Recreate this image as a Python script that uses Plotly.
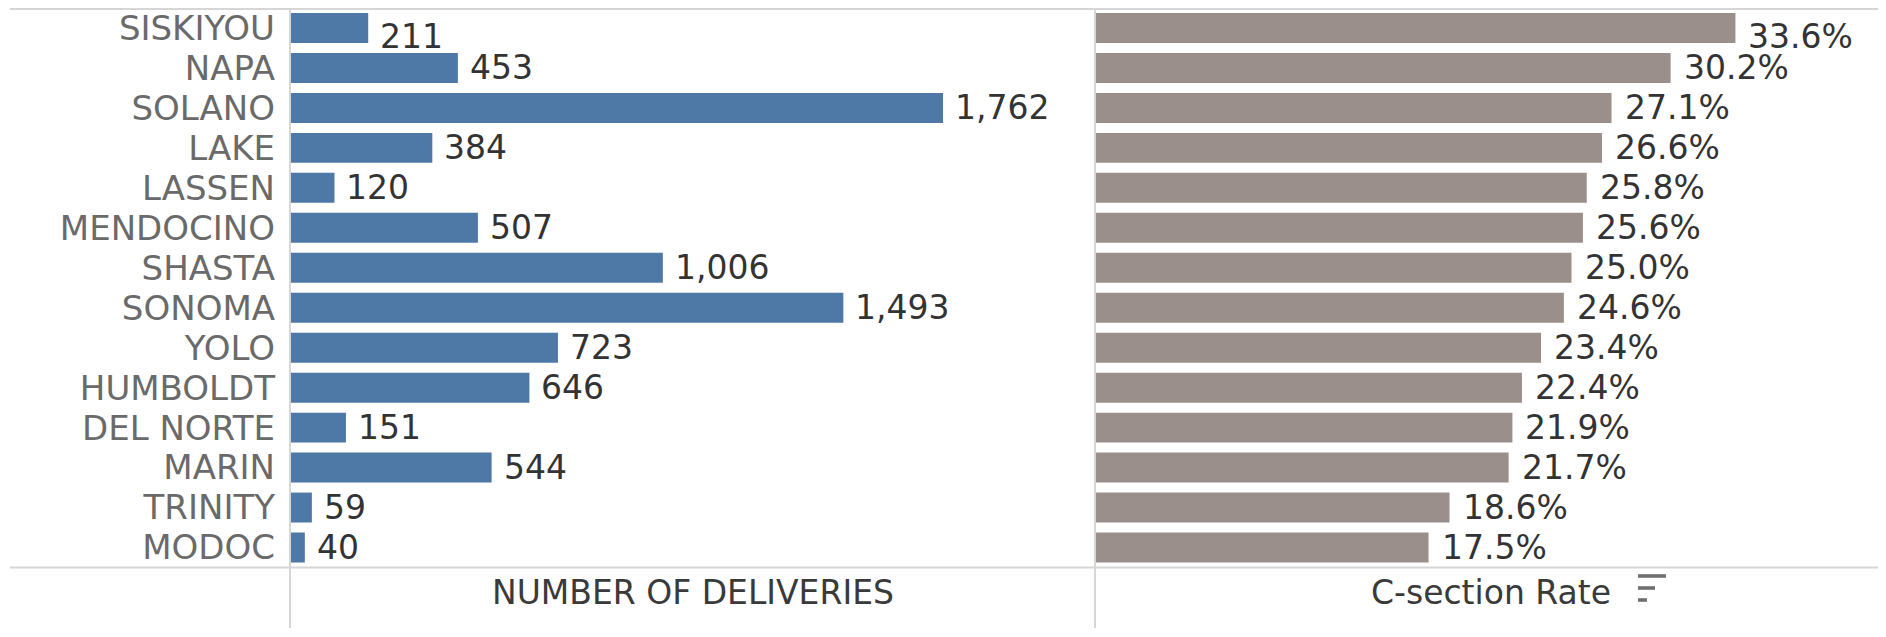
import plotly.graph_objects as go

counties = ['SISKIYOU', 'NAPA', 'SOLANO', 'LAKE', 'LASSEN', 'MENDOCINO', 'SHASTA',
            'SONOMA', 'YOLO', 'HUMBOLDT', 'DEL NORTE', 'MARIN', 'TRINITY', 'MODOC']
deliveries = [211, 453, 1762, 384, 120, 507, 1006, 1493, 723, 646, 151, 544, 59, 40]
csection_rate = [33.6, 30.2, 27.1, 26.6, 25.8, 25.6, 25.0, 24.6, 23.4, 22.4, 21.9, 21.7, 18.6, 17.5]

# the page body has an 8px margin, so the figure is a bit smaller than the window
OFF = 8
W, H = 1886 - OFF, 637 - OFF
FONT = 'DejaVu Sans'
BLUE = '#4e79a7'
GRAY = '#9a8f8b'
LINE = '#d6d6d6'


def px(x):
    return (x - OFF) / W


def py(y):
    return 1 - (y - OFF) / H


# window pixel positions of the panes
x_left, x_mid, x_right = 290, 1095, 1886
y_top, y_bot = 8, 567.5
n = len(counties)

fig = go.Figure()

fig.add_trace(go.Bar(y=counties, x=deliveries, orientation='h',
                     marker=dict(color=BLUE, line=dict(width=0)),
                     xaxis='x', yaxis='y', hoverinfo='x+y'))
fig.add_trace(go.Bar(y=counties, x=csection_rate, orientation='h',
                     marker=dict(color=GRAY, line=dict(width=0)),
                     xaxis='x2', yaxis='y2', hoverinfo='x+y'))

# value labels (top row is pushed down a little, like in the original)
annotations = []
for i, (c, v) in enumerate(zip(counties, deliveries)):
    annotations.append(dict(x=v, y=c, xref='x', yref='y', text=f'{v:,}',
                            showarrow=False, xanchor='left', yanchor='middle', xshift=10,
                            yshift=-9 if i == 0 else 0,
                            font=dict(family=FONT, size=33, color='#333333')))
for i, (c, v) in enumerate(zip(counties, csection_rate)):
    annotations.append(dict(x=v, y=c, xref='x2', yref='y2', text=f'{v:.1f}%',
                            showarrow=False, xanchor='left', yanchor='middle', xshift=11,
                            yshift=-9 if i == 0 else 0,
                            font=dict(family=FONT, size=33, color='#333333')))

title_y = py(592)
annotations.append(dict(x=px((x_left + x_mid) / 2), y=title_y, xref='paper', yref='paper',
                        xanchor='center', yanchor='middle',
                        text='NUMBER OF DELIVERIES', showarrow=False,
                        font=dict(family=FONT, size=33, color='#3a3a3a')))
annotations.append(dict(x=px((x_mid + x_right) / 2), y=title_y, xref='paper', yref='paper',
                        xanchor='center', yanchor='middle',
                        text='C-section Rate', showarrow=False,
                        font=dict(family=FONT, size=33, color='#3a3a3a')))

shapes = []
for yy in (9, y_bot):
    shapes.append(dict(type='line', xref='paper', yref='paper',
                       x0=px(10), x1=1, y0=py(yy), y1=py(yy),
                       line=dict(color=LINE, width=2)))
for xx in (x_left, x_mid):
    shapes.append(dict(type='line', xref='paper', yref='paper',
                       x0=px(xx), x1=px(xx), y0=py(628), y1=1,
                       line=dict(color=LINE, width=2)))
# sort icon next to the C-section Rate header
for yy, x_end in ((576, 1666), (588, 1655), (600, 1647)):
    shapes.append(dict(type='rect', xref='paper', yref='paper',
                       x0=px(1638), x1=px(x_end), y0=py(yy + 1.8), y1=py(yy - 1.8),
                       fillcolor='#707070', line=dict(width=0)))

fig.update_layout(
    width=W, height=H,
    margin=dict(l=0, r=0, t=0, b=0, pad=0),
    paper_bgcolor='white', plot_bgcolor='white',
    showlegend=False, bargap=0.25,
    font=dict(family=FONT),
    xaxis=dict(domain=[px(x_left), px(x_mid)], range=[0, 2172], automargin=False,
               showgrid=False, zeroline=False, showticklabels=False, ticks=''),
    xaxis2=dict(domain=[px(x_mid), 1], range=[0, 41.5], automargin=False,
                showgrid=False, zeroline=False, showticklabels=False, ticks=''),
    yaxis=dict(domain=[py(y_bot), py(y_top)], range=[n - 0.5, -0.5], automargin=False,
               type='category', categoryorder='array', categoryarray=counties,
               anchor='x', showgrid=False, zeroline=False, ticks='',
               tickmode='array', tickvals=counties, ticktext=counties,
               ticklabelstandoff=14,
               tickfont=dict(family=FONT, size=34, color='#6a6a6a')),
    yaxis2=dict(domain=[py(y_bot), py(y_top)], range=[n - 0.5, -0.5], automargin=False,
                type='category', categoryorder='array', categoryarray=counties,
                anchor='x2', showgrid=False, zeroline=False,
                showticklabels=False, ticks=''),
    annotations=annotations,
    shapes=shapes,
)

fig.write_html('out.html')
